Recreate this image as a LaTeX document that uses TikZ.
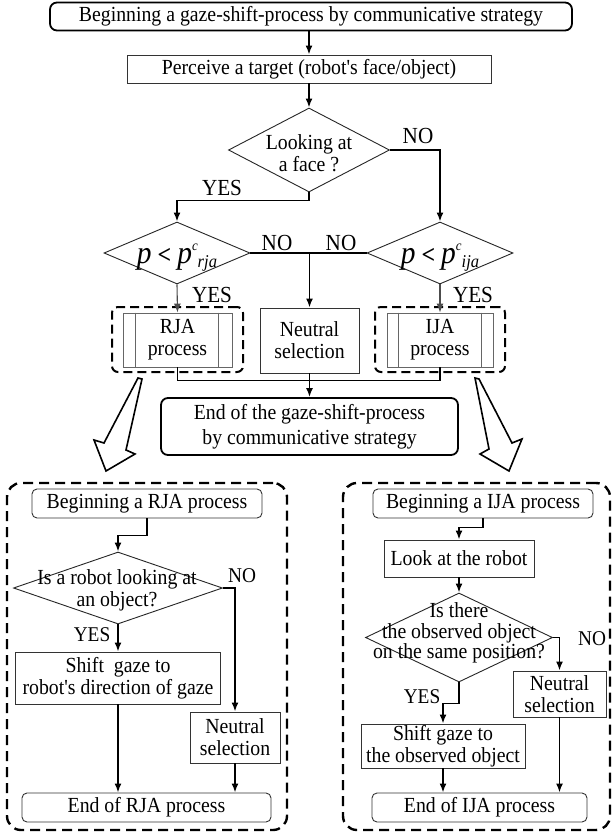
\documentclass[tikz,border=0pt]{standalone}
\usepackage{fontspec}
\setmainfont{Liberation Serif}[FakeStretch=0.92, Ligatures=TeXOff]
\usetikzlibrary{arrows.meta,shapes.geometric,calc}
\newcommand{\pexpr}[1]{{\fontsize{32}{32}\selectfont\itshape p}\hspace{6pt}{\fontsize{26}{26}\selectfont\bfseries <}\hspace{6pt}{\fontsize{32}{32}\selectfont\itshape p}\raisebox{13pt}{\fontsize{14}{14}\selectfont\itshape c}\raisebox{-4pt}{\fontsize{18}{18}\selectfont\itshape #1}}
\begin{document}
\begin{tikzpicture}[x=1pt,y=-1pt,
  txt/.style={font=\fontsize{21.5}{22}\selectfont, align=center, inner sep=0pt},
  box/.style={txt, draw=black!80, line width=0.9pt},
  rbox/.style={box, rounded corners=5pt},
  tbox/.style={txt, draw=black, line width=1.8pt, rounded corners=7pt},
  dia/.style={draw=black!85, line width=0.9pt, shape=diamond, inner sep=0pt},
  conn/.style={draw=black, line width=1.7pt, -{Latex[length=9pt,width=7pt]}},
  tconn/.style={draw=black!70, line width=1.1pt, -{Latex[length=9pt,width=7pt]}},
  wire/.style={draw=black, line width=1.7pt},
  lbl/.style={font=\fontsize{23}{23}\selectfont, inner sep=0pt},
  slbl/.style={font=\fontsize{21}{21}\selectfont, inner sep=0pt},
  dbox/.style={draw=black, line width=2.4pt, dash pattern=on 10pt off 6pt, rounded corners=14pt},
  sdbox/.style={draw=black, line width=2pt, dash pattern=on 9pt off 5pt, rounded corners=6pt, inner sep=0pt},
  hollow/.style={draw=black, line width=1.6pt, line join=miter, fill=white}
]
\useasboundingbox (0,0) rectangle (613,834);
\fill[white] (0,0) rectangle (613,834);

% ---------- top flow ----------
\node[tbox, minimum width=522, minimum height=28] (start) at (311,16.5) {Beginning a gaze-shift-process by communicative strategy};
\node[box, minimum width=364, minimum height=28] (perceive) at (309,69) {Perceive a target (robot's face/object)};
\node[dia, minimum width=161, minimum height=84] (d1) at (309,150) {};
\node[txt] (d1t) at (309,153) {Looking at\\a face ?};
\node[dia, minimum width=146, minimum height=62] (d2) at (177,253) {};
\node[anchor=base, inner sep=0pt] (d2t) at (177,263) {\pexpr{rja}};
\node[dia, minimum width=146, minimum height=62] (d3) at (440,253) {};
\node[anchor=base, inner sep=0pt] (d3t) at (440,263) {\pexpr{ija}};

\node[sdbox, minimum width=131, minimum height=65] (rjag) at (177.5,339.5) {};
\node[box, draw=black!60, minimum width=109, minimum height=54] (rja) at (177.5,340) {RJA\\process};
\draw[black!60, line width=0.9pt] ($(rja.north west)+(13,0)$) -- ($(rja.south west)+(13,0)$);
\draw[black!60, line width=0.9pt] ($(rja.north east)+(-14,0)$) -- ($(rja.south east)+(-14,0)$);
\node[box, minimum width=99, minimum height=65] (neutral) at (309.5,340.5) {Neutral\\selection};
\node[sdbox, minimum width=130, minimum height=65] (ijag) at (440,339.5) {};
\node[box, draw=black!60, minimum width=106, minimum height=54] (ija) at (440,340) {IJA\\process};
\draw[black!60, line width=0.9pt] ($(ija.north west)+(12,0)$) -- ($(ija.south west)+(12,0)$);
\draw[black!60, line width=0.9pt] ($(ija.north east)+(-12,0)$) -- ($(ija.south east)+(-12,0)$);

\node[tbox, font=\fontsize{21.5}{25}\selectfont, minimum width=297, minimum height=57] (endm) at (309.5,426.5) {End of the gaze-shift-process\\by communicative strategy};

\draw[conn] (perceive.north |- start.south) -- (perceive.north);
\draw[conn] (perceive.south) -- (d1.north);
\draw[conn] (d1.east) -| (d3.north);
\draw[conn] (d1.south) -- ++(0,8) -| (d2.north);
\draw[wire] (d2.east) -- (d3.west);
\draw[conn] (neutral.north |- d2.east) -- (neutral.north);
\draw[tconn] (d2.south) -- (rja.north);
\draw[tconn] (d3.south) -- (ija.north);
\draw[wire] (rja.south) -- ++(0,13) -| (ija.south);
\draw[conn] (neutral.south) -- (endm.north);

\node[lbl] at (418,136) {NO};
\node[lbl] at (222,188) {YES};
\node[lbl] at (277,243) {NO};
\node[lbl] at (341,243) {NO};
\node[lbl] at (212,295) {YES};
\node[lbl] at (473,295) {YES};

% hollow arrows
\draw[hollow] (138,378) -- (104,443) -- (94,440) -- (106,471) -- (135,454) -- (126,450) -- (142,379) -- cycle;
\draw[hollow] (475,378) -- (489,449) -- (480,454) -- (509,471) -- (522,439) -- (512,443) -- (479,379) -- cycle;

% ---------- RJA detail ----------
\node[dbox, minimum width=280, minimum height=347] (rjaframe) at (147,656.5) {};
\node[rbox, minimum width=230, minimum height=29] (begR) at (147,503.5) {Beginning a RJA process};
\node[dia, minimum width=209, minimum height=72] (d4) at (118,588) {};
\node[txt] (d4t) at (117,590) {Is a robot looking at\\an object?};
\node[box, minimum width=205, minimum height=52] (shiftR) at (118,678) {Shift\ \ gaze to\\robot's direction of gaze};
\node[box, minimum width=90, minimum height=51] (neutR) at (235,737.5) {Neutral\\selection};
\node[rbox, minimum width=249, minimum height=29] (endR) at (146.5,807.5) {End of RJA process};
\draw[conn] (begR.south) -- ++(0,17) -| (d4.north);
\draw[conn] (d4.east) -| (neutR.north);
\draw[conn] (d4.south) -- (shiftR.north);
\draw[conn] (shiftR.south) -- (shiftR.south |- endR.north);
\draw[conn] (neutR.south) -- (neutR.south |- endR.north);
\node[slbl] at (242,576) {NO};
\node[slbl] at (92,635) {YES};

% ---------- IJA detail ----------
\node[dbox, minimum width=267, minimum height=347] (ijaframe) at (476.5,656.5) {};
\node[rbox, minimum width=220, minimum height=29] (begI) at (483,503.5) {Beginning a IJA process};
\node[box, minimum width=150, minimum height=37] (look) at (459,558.5) {Look at the robot};
\node[dia, minimum width=187, minimum height=89] (d5) at (459,637.5) {};
\node[txt, font=\fontsize{21.5}{20.5}\selectfont] (d5t) at (459,633) {Is there\\the observed object\\on the same position?};
\node[box, minimum width=93, minimum height=46] (neutI) at (559.5,694) {Neutral\\selection};
\node[box, minimum width=164, minimum height=44] (shiftI) at (443,746) {Shift gaze to\\the observed object};
\node[rbox, minimum width=215, minimum height=29] (endI) at (479.5,807.5) {End of IJA process};
\draw[conn] (begI.south) -- ++(0,9) -| (look.north);
\draw[conn] (look.south) -- (d5.north);
\draw[conn] (d5.east) -| (neutI.north);
\draw[conn] (d5.south) -- ++(0,21) -| (shiftI.north);
\draw[conn] (shiftI.south) -- (shiftI.south |- endI.north);
\draw[conn] (neutI.south) -- (neutI.south |- endI.north);
\node[slbl] at (592,639) {NO};
\node[slbl] at (422,697) {YES};
\end{tikzpicture}
\end{document}
